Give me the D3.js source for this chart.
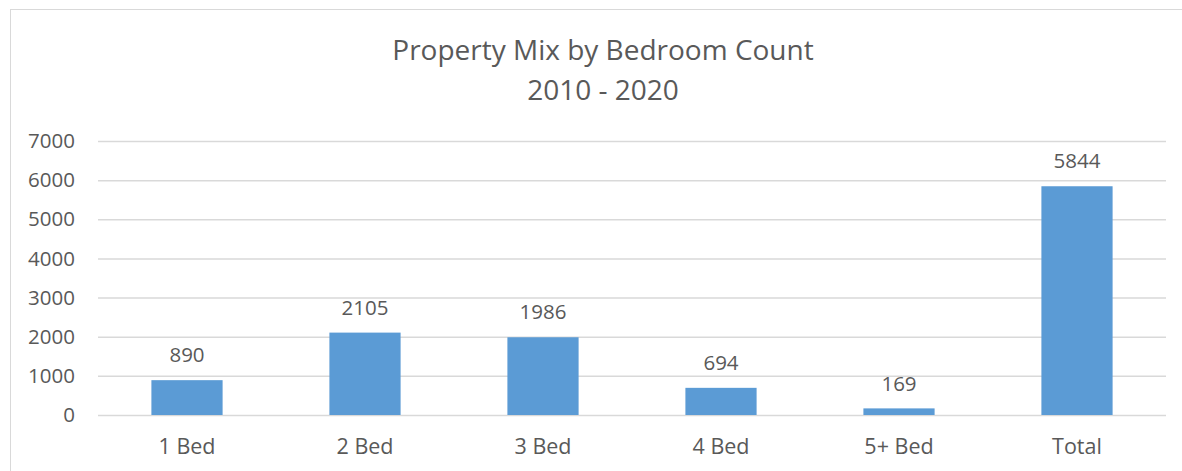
<!DOCTYPE html>
<html>
<head>
<meta charset="utf-8">
<script src="https://cdn.jsdelivr.net/npm/d3@7"></script>
<style>
  body { margin: 0; background: #fff; }
  text { font-family: "Open Sans", sans-serif; fill: #595959; }
</style>
</head>
<body>
<div id="chart"></div>
<script>
var categories = ["1 Bed", "2 Bed", "3 Bed", "4 Bed", "5+ Bed", "Total"];
var counts = [890, 2105, 1986, 694, 169, 5844];
var yTicks = [0, 1000, 2000, 3000, 4000, 5000, 6000, 7000];
var titleLines = ["Property Mix by Bedroom Count", "2010 - 2020"];

function init() {
    var w = 1182;
    var h = 471;
    var left = 98, right = 1166, top = 141, bottom = 415;

    var svg = d3.select("#chart")
        .append("svg")
        .attr("width", w)
        .attr("height", h);

    // chart frame
    svg.append("rect")
        .attr("x", 10.5)
        .attr("y", 9.5)
        .attr("width", 1190)
        .attr("height", 480)
        .attr("fill", "none")
        .attr("stroke", "#d9d9d9");

    var x = d3.scaleBand()
        .domain(categories)
        .range([left, right])
        .paddingInner(0.6)
        .paddingOuter(0.3);

    var y = d3.scaleLinear()
        .domain([0, 7000])
        .range([bottom, top]);

    svg.selectAll("line.grid")
        .data(yTicks)
        .enter()
        .append("line")
        .attr("class", "grid")
        .attr("x1", left)
        .attr("x2", right)
        .attr("y1", function(d) { return y(d) + 0.5; })
        .attr("y2", function(d) { return y(d) + 0.5; })
        .attr("stroke", "#d9d9d9")
        .attr("stroke-width", 1.5);

    svg.selectAll("text.ytick")
        .data(yTicks)
        .enter()
        .append("text")
        .attr("class", "ytick")
        .attr("x", 75)
        .attr("y", function(d) { return y(d); })
        .attr("dy", "0.35em")
        .attr("text-anchor", "end")
        .attr("font-size", 20.5)
        .text(function(d) { return d; });

    svg.selectAll("rect.bar")
        .data(counts)
        .enter()
        .append("rect")
        .attr("class", "bar")
        .attr("x", function(d, i) { return x(categories[i]); })
        .attr("y", function(d) { return y(d); })
        .attr("width", x.bandwidth())
        .attr("height", function(d) { return bottom - y(d); })
        .attr("fill", "#5b9bd5");

    svg.selectAll("text.val")
        .data(counts)
        .enter()
        .append("text")
        .attr("class", "val")
        .attr("x", function(d, i) { return x(categories[i]) + x.bandwidth() / 2; })
        .attr("y", function(d) { return y(d) - 25; })
        .attr("dy", "0.35em")
        .attr("text-anchor", "middle")
        .attr("font-size", 20.5)
        .text(function(d) { return d; });

    svg.selectAll("text.cat")
        .data(categories)
        .enter()
        .append("text")
        .attr("class", "cat")
        .attr("x", function(d) { return x(d) + x.bandwidth() / 2; })
        .attr("y", 446)
        .attr("dy", "0.35em")
        .attr("text-anchor", "middle")
        .attr("font-size", 21.5)
        .text(function(d) { return d; });

    svg.selectAll("text.title")
        .data(titleLines)
        .enter()
        .append("text")
        .attr("class", "title")
        .attr("x", 603)
        .attr("y", function(d, i) { return 50 + i * 40; })
        .attr("dy", "0.35em")
        .attr("text-anchor", "middle")
        .attr("font-size", 28)
        .text(function(d) { return d; });
}

window.onload = init;
</script>
</body>
</html>
